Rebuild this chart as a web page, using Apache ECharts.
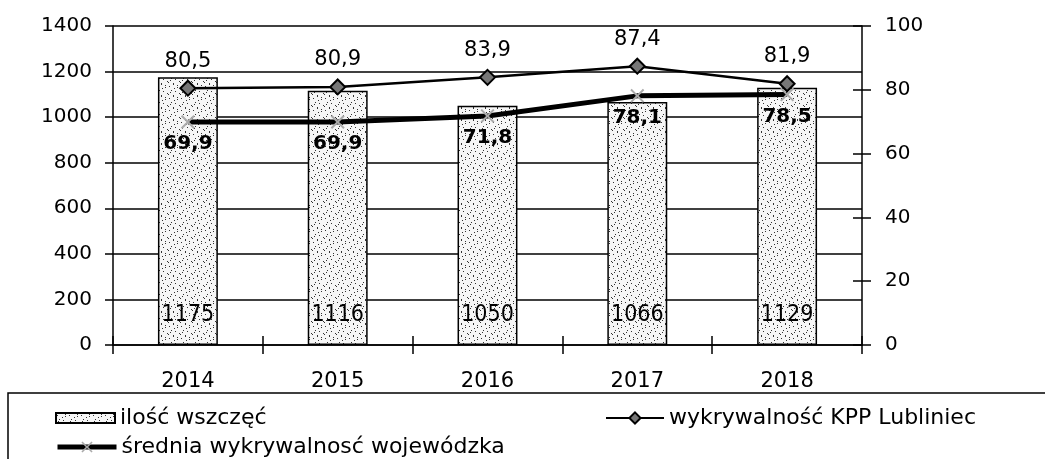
<!DOCTYPE html>
<html>
<head>
<meta charset="utf-8">
<script src="https://cdn.jsdelivr.net/npm/echarts@6/dist/echarts.min.js"></script>
<style>
  html, body { margin: 0; padding: 0; background: #fff; }
  #chart { width: 1045px; height: 459px; }
</style>
</head>
<body>
<div id="chart"></div>
<script>
"use strict";

var years = ['2014', '2015', '2016', '2017', '2018'];
var wszczecia = [1175, 1116, 1050, 1066, 1129];
var kppLubliniec = [80.5, 80.9, 83.9, 87.4, 81.9];
var sredniaWoj = [69.9, 69.9, 71.8, 78.1, 78.5];
var leftTicks = [0, 1400, 200];
var rightTicks = [0, 100, 20];

var FONT = '"DejaVu Sans", Arial, sans-serif';
var NARROW = '"Liberation Sans Narrow", "DejaVu Sans Condensed", Arial, sans-serif';

// stippled fill for the bars (fixed dot layout, not data)
var makeStipple = function() {
  var c = document.createElement('canvas');
  c.width = 12;
  c.height = 12;
  var ctx = c.getContext('2d');
  ctx.fillStyle = '#f6f6f6';
  ctx.fillRect(0, 0, 12, 12);
  ctx.fillStyle = '#333';
  var dots = [[1, 2], [5, 0], [9, 3], [3, 6], [7, 7], [11, 9], [0, 10], [5, 11], [9, 1], [2, 8], [6, 4]];
  for (var i = 0; i < dots.length; i++) {
    ctx.fillRect(dots[i][0], dots[i][1], 1, 1);
  }
  return c;
};

var fmt = function(p) { return String(p.value).replace('.', ','); };

var crossSymbol = 'path://M0,1L1,0L5,4L9,0L10,1L6,5L10,9L9,10L5,6L1,10L0,9L4,5Z';

var black = { color: '#000', width: 1.5 };
var legendText = { fontSize: 22, fontFamily: FONT, color: '#000' };

var chart = echarts.init(document.getElementById('chart'));

var option = {
  animation: false,
  backgroundColor: '#fff',
  textStyle: { fontFamily: FONT, color: '#000' },
  grid: { left: 113, right: 183, top: 26, bottom: 114 },
  legend: [
    {
      data: [{ name: 'ilość wszczęć', icon: 'rect' }], left: 50, top: 402,
      itemWidth: 59, itemHeight: 10,
      textStyle: legendText
    },
    {
      data: ['średnia wykrywalnosć wojewódzka'], left: 50, top: 431,
      itemWidth: 59, itemHeight: 14,
      lineStyle: { width: 5 },
      textStyle: legendText
    },
    {
      data: ['wykrywalność KPP Lubliniec'], left: 600, top: 402,
      itemWidth: 58, itemHeight: 14,
      textStyle: legendText
    }
  ],
  graphic: [
    {
      type: 'rect', silent: true,
      shape: { x: 8, y: 393, width: 1060, height: 90 },
      style: { fill: 'none', stroke: '#000', lineWidth: 1.5 }
    }
  ],
  xAxis: [
    {
      type: 'category', data: years,
      axisLine: { lineStyle: black },
      axisTick: { show: true, length: 9, lineStyle: black },
      axisLabel: { fontSize: 21, color: '#000', margin: 26, fontFamily: FONT }
    },
    {
      type: 'category', data: years, position: 'bottom',
      axisLine: { show: false },
      axisTick: { show: true, inside: true, length: 9, lineStyle: black },
      axisLabel: { show: false }
    }
  ],
  yAxis: [
    {
      type: 'value', min: leftTicks[0], max: leftTicks[1], interval: leftTicks[2],
      axisLine: { show: true, lineStyle: black },
      axisTick: { show: true, length: 8, lineStyle: black },
      axisLabel: {
        fontSize: 20, color: '#000', margin: 21, fontFamily: FONT,
        formatter: function(v) { return String(v); }
      },
      splitLine: { show: true, lineStyle: black }
    },
    {
      type: 'value', position: 'right', min: rightTicks[0], max: rightTicks[1], interval: rightTicks[2],
      axisLine: { show: true, lineStyle: black },
      axisTick: { show: true, length: 9, lineStyle: black },
      axisLabel: { fontSize: 20, color: '#000', margin: 23, fontFamily: FONT },
      splitLine: { show: false }
    },
    {
      type: 'value', position: 'right', min: rightTicks[0], max: rightTicks[1], interval: rightTicks[2],
      axisLine: { show: false },
      axisTick: { show: true, inside: true, length: 9, lineStyle: black },
      axisLabel: { show: false },
      splitLine: { show: false }
    }
  ],
  series: [
    {
      name: 'ilość wszczęć', type: 'bar', data: wszczecia, yAxisIndex: 0,
      barWidth: '40%',
      itemStyle: {
        color: { image: makeStipple(), repeat: 'repeat' },
        borderColor: '#000', borderWidth: 1.5
      },
      label: {
        show: true, position: 'insideBottom', distance: 18,
        fontSize: 23, color: '#000', fontFamily: NARROW
      },
      z: 1
    },
    {
      name: 'średnia wykrywalnosć wojewódzka', type: 'line', data: sredniaWoj, yAxisIndex: 1,
      symbol: crossSymbol, symbolSize: 14, showAllSymbol: true,
      lineStyle: { color: '#000', width: 5 },
      itemStyle: { color: '#aaa' },
      label: {
        show: true, position: 'bottom', distance: 5,
        fontSize: 20, fontWeight: 'bold', color: '#000', fontFamily: FONT,
        formatter: fmt
      },
      z: 3
    },
    {
      name: 'wykrywalność KPP Lubliniec', type: 'line', data: kppLubliniec, yAxisIndex: 1,
      symbol: 'diamond', symbolSize: 15,
      lineStyle: { color: '#000', width: 2.5 },
      itemStyle: { color: '#777', borderColor: '#000', borderWidth: 2 },
      label: {
        show: true, position: 'top', distance: 8,
        fontSize: 21, color: '#000', fontFamily: FONT,
        formatter: fmt
      },
      z: 4
    }
  ]
};

chart.setOption(option);
</script>
</body>
</html>
